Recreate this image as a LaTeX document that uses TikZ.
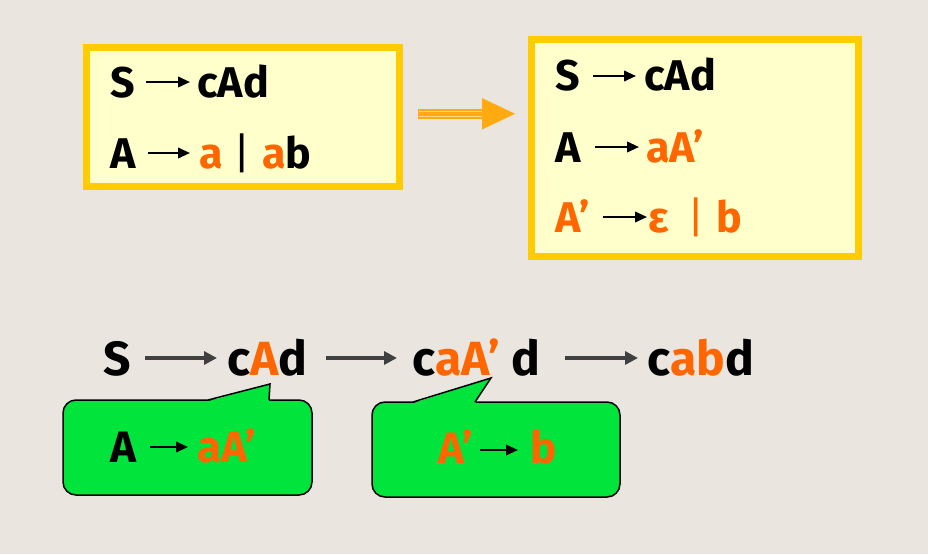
\documentclass[tikz,border=0pt]{standalone}
\usepackage{fontspec}
\setmainfont{Fira Sans}
\usetikzlibrary{arrows.meta}
\definecolor{bg}{RGB}{234,230,223}
\definecolor{boxfill}{RGB}{255,255,204}
\definecolor{boxline}{RGB}{255,204,0}
\definecolor{org}{RGB}{255,102,0}
\definecolor{bigarr}{RGB}{255,170,17}
\definecolor{bigpale}{RGB}{255,214,130}
\definecolor{callg}{RGB}{0,228,60}
\definecolor{darkarr}{RGB}{64,64,64}
\tikzset{
  txt/.style={inner sep=0pt, anchor=base west, font=\fontsize{43}{43}\selectfont\bfseries},
  barx/.style={inner sep=0pt, anchor=base, font=\fontsize{43}{43}\selectfont\mdseries},
  bot/.style={inner sep=0pt, anchor=base west, font=\fontsize{48}{48}\selectfont\bfseries},
  cal/.style={inner sep=0pt, anchor=base west, font=\fontsize{44}{44}\selectfont\bfseries},
  rulebox/.style={draw=boxline, fill=boxfill, line width=7pt},
  arrK/.style={line width=2.2pt, -{Triangle[length=12pt,width=10.5pt]}},
  arrG/.style={draw=darkarr, line width=3.6pt, -{Triangle[length=13pt,width=13pt]}},
  callbox/.style={draw=black, fill=callg, line width=1.5pt, rounded corners=13pt},
  callptr/.style={draw=black, line width=1.5pt, line join=miter}
}
\begin{document}
\begin{tikzpicture}[x=1pt,y=-1pt]
\useasboundingbox (0,0) rectangle (928,554);
\fill[bg] (0,0) rectangle (928,554);

% left grammar box
\draw[rulebox] (86.5,47.5) rectangle (399.5,186.5);
\node[txt] (l1s) at (110,97) {S};
\node[txt] (l1r) at (197,97) {cAd};
\draw[arrK] ([xshift=36pt,yshift=15pt]l1s.base west) -- ([xshift=-7pt,yshift=15pt]l1r.base west);
\node[txt] (l2s) at (110,168) {A};
\node[txt, text=org] (l2r) at (199,168) {a};
\node[barx] (l2b) at (242,168) {|};
\node[txt] (l2c) at (262,168) {{\color{org}a}b};
\draw[arrK] ([xshift=38pt,yshift=15pt]l2s.base west) -- ([xshift=-9pt,yshift=15pt]l2r.base west);

% big arrow
\coordinate (bas) at (418,113.8);
\fill[bigarr] (bas) ++(0,-5.3) rectangle (484,119.1);
\draw[bigpale, line width=1.3pt] (419,111.4) -- (483,111.4);
\draw[bigpale, line width=1.3pt] (419,116.3) -- (483,116.3);
\fill[bigarr] (482,98) -- (515,113.8) -- (482,129.5) -- cycle;

% right grammar box
\draw[rulebox] (531.5,39.5) rectangle (858.5,256.5);
\node[txt] (r1s) at (555,90) {S};
\node[txt] (r1r) at (644,90) {cAd};
\draw[arrK] ([xshift=38pt,yshift=14pt]r1s.base west) -- ([xshift=-8pt,yshift=14pt]r1r.base west);
\node[txt] (r2s) at (555,162) {A};
\node[txt, text=org] (r2r) at (646,162) {aA’};
\draw[arrK] ([xshift=40pt,yshift=15pt]r2s.base west) -- ([xshift=-7pt,yshift=15pt]r2r.base west);
\node[txt, text=org] (r3s) at (555,232) {A’};
\node[txt, text=org] (r3r) at (648,232) {ε};
\node[barx, text=org] (r3b) at (696,232) {|};
\node[txt, text=org] (r3c) at (716,232) {b};
\draw[arrK] ([xshift=48pt,yshift=15pt]r3s.base west) -- ([xshift=-1pt,yshift=15pt]r3r.base west);

% derivation row
\node[bot] (d1) at (103,375) {S};
\node[bot] (d2) at (227,375) {c{\color{org}A}d};
\node[bot] (d3) at (412,375) {c{\color{org}aA’} d};
\node[bot] (d4) at (647,375) {c{\color{org}ab}d};
\draw[arrG] ([xshift=42pt,yshift=17pt]d1.base west) -- ([xshift=-10pt,yshift=17pt]d2.base west);
\draw[arrG] ([xshift=99pt,yshift=17pt]d2.base west) -- ([xshift=-15pt,yshift=17pt]d3.base west);
\draw[arrG] ([xshift=153pt,yshift=17pt]d3.base west) -- ([xshift=-9pt,yshift=17pt]d4.base west);

% left callout
\path[callbox] (63,400) rectangle (312,495);
\fill[callg] (208,401.2) -- (270,384) -- (269,401.2) -- cycle;
\draw[callptr] (208,400) -- (270,384) -- (269,400);
\node[cal] (c1s) at (110,462) {A};
\node[cal, text=org] (c1r) at (197,462) {aA’};
\draw[arrK] ([xshift=40pt,yshift=15pt]c1s.base west) -- ([xshift=-9pt,yshift=15pt]c1r.base west);

% right callout
\path[callbox] (372,402) rectangle (620,497);
\fill[callg] (413,403.2) -- (491,378) -- (475,403.2) -- cycle;
\draw[callptr] (413,402) -- (491,378) -- (475,402);
\node[cal, text=org] (c2s) at (438,463) {A’};
\node[cal, text=org] (c2r) at (530,463) {b};
\draw[arrK] ([xshift=42pt,yshift=13pt]c2s.base west) -- ([xshift=-12pt,yshift=13pt]c2r.base west);
\end{tikzpicture}
\end{document}
